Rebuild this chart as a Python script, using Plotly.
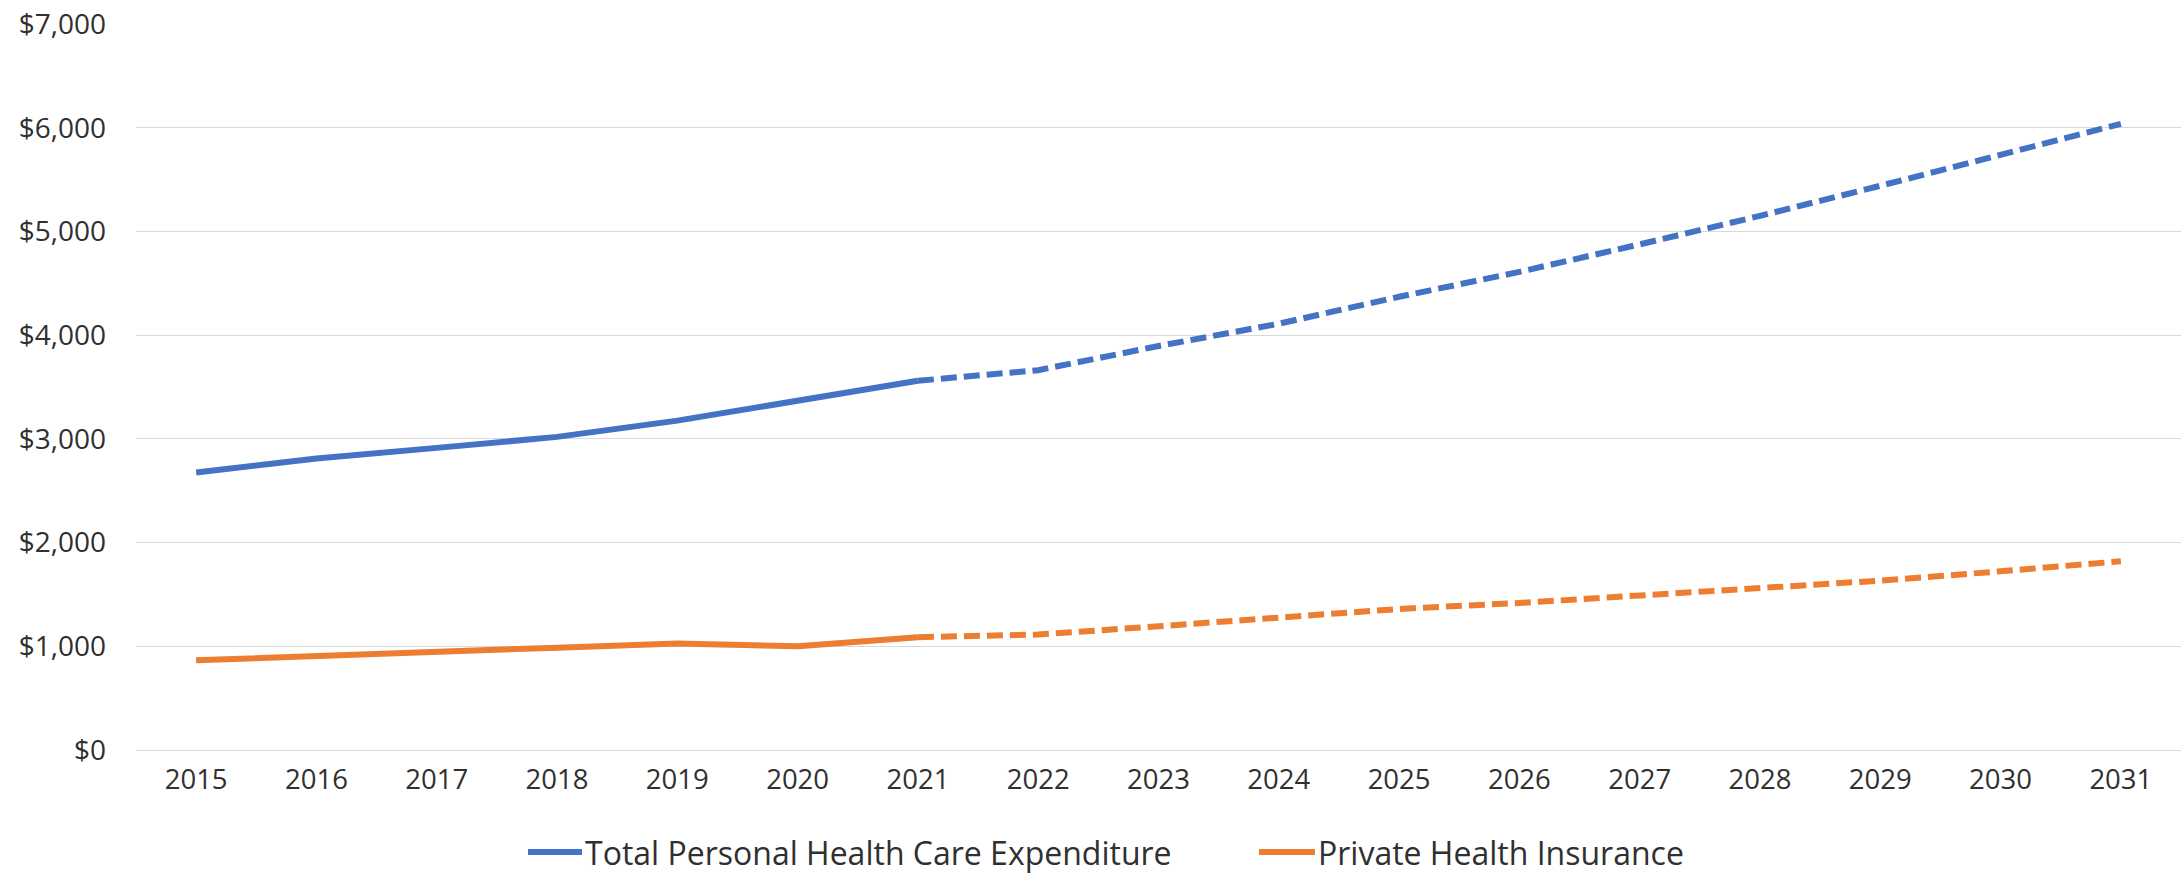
import plotly.graph_objects as go

# Years on the category axis
years = [str(y) for y in range(2015, 2032)]

# Spending in billions of dollars (history through 2021, projections after)
total_phc = [2675, 2810, 2913, 3019, 3176, 3369, 3560, 3662, 3895, 4110,
             4370, 4610, 4875, 5150, 5440, 5740, 6037]
private_ins = [865, 910, 950, 987, 1026, 1000, 1088, 1113, 1193, 1283,
               1360, 1418, 1489, 1556, 1633, 1723, 1820]

series_names = ["Total Personal Health Care Expenditure", "Private Health Insurance"]
series_colors = ["#4472C4", "#ED7D31"]
last_actual = years.index("2021")

W, H = 2181, 875
M_L, M_R, M_T, M_B = 136, 0, 24, 125
FONT = "Open Sans, Noto Sans, sans-serif"
TEXT = "#303030"
LINE_W = 6

fig = go.Figure()
for name, vals, color in zip(series_names, [total_phc, private_ins], series_colors):
    # Historical segment: solid
    fig.add_trace(go.Scatter(
        x=years[:last_actual + 1], y=vals[:last_actual + 1], mode="lines",
        name=name, line=dict(color=color, width=LINE_W), showlegend=False,
        hoverinfo="x+y"))
    # Projected segment: dashed
    fig.add_trace(go.Scatter(
        x=years[last_actual:], y=vals[last_actual:], mode="lines",
        name=name, line=dict(color=color, width=LINE_W, dash="16px,7px"),
        showlegend=False, hoverinfo="x+y"))

# Legend drawn below the plot: short line sample followed by its label
plot_w = W - M_L - M_R
plot_h = H - M_T - M_B
def px_x(px):
    return (px - M_L) / plot_w
def px_y(py):
    return (H - M_B - py) / plot_h

legend_y = px_y(852)
legend_items = [(528, 582), (1259, 1315)]
shapes, annotations = [], []
for (x0, x1), name, color in zip(legend_items, series_names, series_colors):
    shapes.append(dict(type="line", xref="paper", yref="paper",
                       x0=px_x(x0), x1=px_x(x1), y0=legend_y, y1=legend_y,
                       line=dict(color=color, width=LINE_W)))
    annotations.append(dict(xref="paper", yref="paper", x=px_x(x1 + 1), y=legend_y,
                            xanchor="left", yanchor="middle", showarrow=False,
                            text=name, font=dict(family=FONT, size=32, color=TEXT)))

fig.update_layout(
    width=W, height=H,
    margin=dict(l=M_L, r=M_R, t=M_T, b=M_B),
    paper_bgcolor="white", plot_bgcolor="white",
    showlegend=False,
    shapes=shapes, annotations=annotations,
    font=dict(family=FONT, size=28, color=TEXT),
)
fig.update_xaxes(
    type="category", range=[-0.5, len(years) - 0.5],
    showgrid=False, showline=False, zeroline=False,
    ticks="", ticklabelstandoff=10,
    tickfont=dict(family=FONT, size=27.5, color=TEXT),
)
fig.update_yaxes(
    range=[0, 7000], dtick=1000, tick0=0,
    tickprefix="$", tickformat=",d",
    showgrid=True, gridcolor="#D9D9D9", gridwidth=1.4,
    zeroline=True, zerolinecolor="#D9D9D9", zerolinewidth=1.4,
    showline=False, ticks="", ticklabelstandoff=29,
    tickfont=dict(family=FONT, size=28, color=TEXT),
)

fig.write_html("out.html")
